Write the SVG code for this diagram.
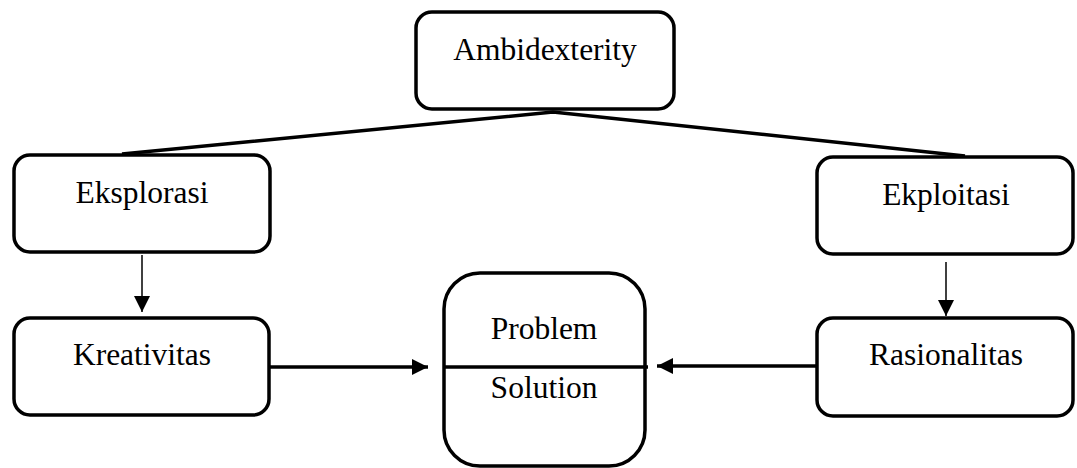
<svg xmlns="http://www.w3.org/2000/svg" width="1077" height="468" viewBox="0 0 1077 468">
<style>
.box{fill:#fff;stroke:#000;stroke-width:3.5}
.lbl{font-family:"Liberation Serif","Times New Roman",serif;font-size:31.5px;fill:#000;text-anchor:middle}
.thin{stroke:#000;stroke-width:1.5;fill:none}
.thick{stroke:#000;stroke-width:3.5;fill:none}
</style>
<defs>
<marker id="ah" viewBox="0 0 10 10" refX="10" refY="5" markerWidth="18" markerHeight="16" markerUnits="userSpaceOnUse" orient="auto">
<path d="M0,0 L10,5 L0,10 Z" fill="#000"/>
</marker>
<marker id="ahs" viewBox="0 0 10 10" refX="10" refY="5" markerWidth="17" markerHeight="16" markerUnits="userSpaceOnUse" orient="auto">
<path d="M0,0 L10,5 L0,10 Z" fill="#000"/>
</marker>
</defs>
<g id="connectors">
<path class="thick" d="M122,154 L553,112 L965,156"/>
<line class="thin" x1="142" y1="255" x2="142" y2="312" marker-end="url(#ahs)"/>
<line class="thin" x1="946" y1="262" x2="946" y2="316" marker-end="url(#ahs)"/>
<line class="thick" x1="270" y1="367" x2="428" y2="367" marker-end="url(#ah)"/>
<line class="thick" x1="817" y1="366" x2="657" y2="366" marker-end="url(#ah)"/>
</g>
<g id="ambidexterity">
<rect class="box" x="416" y="12" width="258" height="97" rx="16"/>
<text class="lbl" x="545" y="60">Ambidexterity</text>
</g>
<g id="eksplorasi">
<rect class="box" x="14" y="155" width="256" height="97" rx="16"/>
<text class="lbl" x="142" y="203">Eksplorasi</text>
</g>
<g id="ekploitasi">
<rect class="box" x="817" y="157" width="256" height="97" rx="16"/>
<text class="lbl" x="946" y="205">Ekploitasi</text>
</g>
<g id="kreativitas">
<rect class="box" x="14" y="318" width="255" height="97" rx="16"/>
<text class="lbl" x="142" y="365">Kreativitas</text>
</g>
<g id="rasionalitas">
<rect class="box" x="817" y="318" width="256" height="98" rx="16"/>
<text class="lbl" x="946" y="365">Rasionalitas</text>
</g>
<g id="problem-solution">
<rect class="box" x="444" y="273" width="201" height="193" rx="36"/>
<line class="thick" x1="444" y1="367" x2="648" y2="367"/>
<text class="lbl" x="544" y="339">Problem</text>
<text class="lbl" x="544" y="398">Solution</text>
</g>
</svg>
